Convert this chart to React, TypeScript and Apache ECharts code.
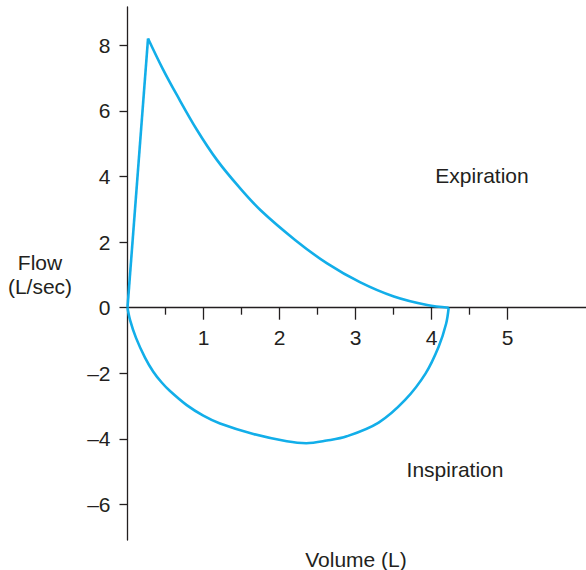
import { useEffect, useRef } from "react";
import * as echarts from "echarts";

// Flow–volume loop: volume in litres (x), flow in L/sec (y)
const riseVolume = [0, 0.27];
const riseFlow = [0, 8.21];

const expVolume = [0.27, 0.46, 0.651, 0.914, 1.178, 1.463, 1.747, 2.208, 2.625, 3.063, 3.503, 3.941, 4.224];
const expFlow = [8.21, 7.3, 6.48, 5.42, 4.5, 3.69, 2.98, 2.06, 1.35, 0.77, 0.34, 0.08, 0];

const inspVolume = [0, 0.033, 0.112, 0.23, 0.339, 0.45, 0.559, 0.779, 0.997, 1.217, 1.655, 2.095, 2.35, 2.62, 2.884, 3.303, 3.651, 3.921, 4.092, 4.191, 4.224];
const inspFlow = [0, -0.37, -0.92, -1.52, -1.95, -2.28, -2.54, -2.97, -3.29, -3.53, -3.85, -4.07, -4.13, -4.05, -3.92, -3.5, -2.81, -2.0, -1.19, -0.48, 0];

const volumeTicks = [1, 2, 3, 4, 5];
const volumeHalfTicks = [0.5, 1.5, 2.5, 3.5, 4.5];
const flowTicksUpper = [0, 2, 4, 6, 8];
const flowTicksLower = [-6, -4, -2];

const VOLUME_MAX = 6.03;
const FLOW_MAX = 9.17;
const FLOW_MIN = -7.08;

const INK = "#231f20";
const CURVE = "#12aee9";
const FONT = "'Liberation Sans', Arial, Helvetica, sans-serif";
const FONT_SIZE = 21;

const pairs = (xs: number[], ys: number[]) => xs.map((x, i) => [x, ys[i]]);

export default function App() {
  const ref = useRef<HTMLDivElement>(null);

  useEffect(() => {
    if (!ref.current) return;
    const chart = echarts.init(ref.current, undefined, { renderer: "svg" });

    const curveSeries = (data: number[][], smooth: boolean | number, gridIdx: number) => ({
      type: "line",
      xAxisIndex: gridIdx === 0 ? 0 : 2,
      yAxisIndex: gridIdx,
      data,
      smooth,
      symbol: "none",
      clip: false,
      lineStyle: { color: CURVE, width: 2.6 },
      z: 5,
    });

    const axisText = {
      color: INK,
      fontSize: FONT_SIZE,
      fontFamily: FONT,
    };
    const inkLine = { color: INK, width: 1.3 };
    const flowLabel = (v: number) => (v < 0 ? "\u2013" + Math.abs(v) : String(v));

    chart.setOption({
      animation: false,
      backgroundColor: "#ffffff",
      grid: [
        // positive flow (expiration) half, its bottom edge is the zero line
        { left: 127.5, right: 0, top: 7, bottom: 262.3, outerBoundsMode: "none" },
        // negative flow (inspiration) half
        { left: 127.5, right: 0, top: 307.7, bottom: 30, outerBoundsMode: "none" },
      ],
      xAxis: [
        {
          type: "value",
          gridIndex: 0,
          min: 0,
          max: VOLUME_MAX,
          position: "bottom",
          axisLine: { show: true, onZero: false, lineStyle: inkLine },
          axisTick: { show: true, length: 12, customValues: volumeTicks, lineStyle: inkLine },
          axisLabel: { show: true, customValues: volumeTicks, margin: 19, ...axisText },
          splitLine: { show: false },
        },
        {
          type: "value",
          gridIndex: 0,
          min: 0,
          max: VOLUME_MAX,
          position: "bottom",
          axisLine: { show: false, onZero: false },
          axisTick: { show: true, length: 7, customValues: volumeHalfTicks, lineStyle: inkLine },
          axisLabel: { show: false },
          splitLine: { show: false },
        },
        {
          type: "value",
          gridIndex: 1,
          min: 0,
          max: VOLUME_MAX,
          show: false,
        },
      ],
      yAxis: [
        {
          type: "value",
          gridIndex: 0,
          min: 0,
          max: FLOW_MAX,
          axisLine: { show: true, onZero: false, lineStyle: inkLine },
          axisTick: { show: true, length: 8, customValues: flowTicksUpper, lineStyle: inkLine },
          axisLabel: { show: true, customValues: flowTicksUpper, margin: 17, formatter: flowLabel, ...axisText },
          splitLine: { show: false },
        },
        {
          type: "value",
          gridIndex: 1,
          min: FLOW_MIN,
          max: 0,
          axisLine: { show: true, onZero: false, lineStyle: inkLine },
          axisTick: { show: true, length: 8, customValues: flowTicksLower, lineStyle: inkLine },
          axisLabel: { show: true, customValues: flowTicksLower, margin: 17, formatter: flowLabel, ...axisText },
          splitLine: { show: false },
        },
      ],
      series: [
        curveSeries(pairs(riseVolume, riseFlow), false, 0),
        curveSeries(pairs(expVolume, expFlow), 0.35, 0),
        curveSeries(pairs(inspVolume, inspFlow), 0.35, 1),
      ],
      graphic: [
        { type: "text", x: 40, y: 262, style: { text: "Flow", fill: INK, font: `${FONT_SIZE}px ${FONT}`, textAlign: "center", textVerticalAlign: "middle" } },
        { type: "text", x: 40, y: 286, style: { text: "(L/sec)", fill: INK, font: `${FONT_SIZE}px ${FONT}`, textAlign: "center", textVerticalAlign: "middle" } },
        { type: "text", x: 482, y: 175, style: { text: "Expiration", fill: INK, font: `${FONT_SIZE}px ${FONT}`, textAlign: "center", textVerticalAlign: "middle" } },
        { type: "text", x: 455, y: 469, style: { text: "Inspiration", fill: INK, font: `${FONT_SIZE}px ${FONT}`, textAlign: "center", textVerticalAlign: "middle" } },
        { type: "text", x: 356, y: 559, style: { text: "Volume (L)", fill: INK, font: `${FONT_SIZE}px ${FONT}`, textAlign: "center", textVerticalAlign: "middle" } },
      ],
    });

    return () => chart.dispose();
  }, []);

  return (
    <div
      ref={ref}
      style={{ position: "fixed", left: 0, top: 0, width: 586, height: 570, background: "#fff" }}
    />
  );
}
